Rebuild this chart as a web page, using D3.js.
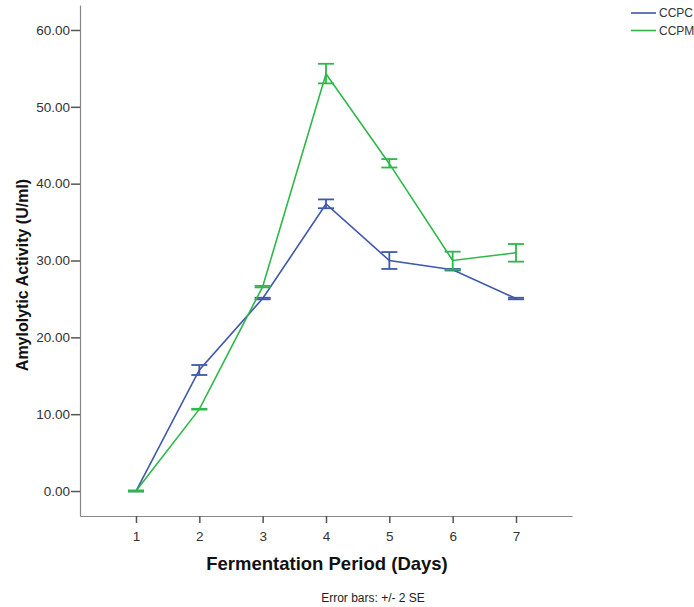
<!DOCTYPE html>
<html><head><meta charset="utf-8">
<script src="https://cdn.jsdelivr.net/npm/d3@7"></script>
<style>body{margin:0;background:#fff;}svg{display:block;font-family:"Liberation Sans",Arial,sans-serif;}</style>
</head><body>
<svg id="chart" width="694" height="607"></svg>
<script>
const days = [1, 2, 3, 4, 5, 6, 7];
const seriesNames = ["CCPC", "CCPM"];
const ccpcMean = [0, 15.75, 25.05, 37.35, 30.0, 28.8, 25.05];
const ccpcLow  = [-0.05, 15.1, 24.95, 36.8, 28.9, 28.7, 24.95];
const ccpcHigh = [0.05, 16.4, 25.15, 37.95, 31.1, 28.9, 25.15];
const ccpmMean = [0, 10.65, 26.6, 54.3, 42.6, 30.0, 31.0];
const ccpmLow  = [-0.05, 10.6, 26.5, 53.05, 42.1, 28.8, 29.85];
const ccpmHigh = [0.05, 10.7, 26.7, 55.6, 43.2, 31.15, 32.15];
const yTicks = [0, 10, 20, 30, 40, 50, 60];
const colors = ["#3E58AC", "#2EB848"];

const series = [
  {name: seriesNames[0], mean: ccpcMean, low: ccpcLow, high: ccpcHigh, color: colors[0]},
  {name: seriesNames[1], mean: ccpmMean, low: ccpmLow, high: ccpmHigh, color: colors[1]}
];

const svg = d3.select("#chart");
const x = d3.scaleLinear().domain([0.116, 7.884]).range([80, 572]);
const y = d3.scaleLinear().domain([-3.25, 63.25]).range([516, 5]);

// axes
const xAxis = svg.append("g").attr("transform", "translate(0,516)")
  .call(d3.axisBottom(x).tickValues(days).tickFormat(d3.format("d")).tickSize(7).tickSizeOuter(0));
const yAxis = svg.append("g").attr("transform", "translate(80,0)")
  .call(d3.axisLeft(y).tickValues(yTicks).tickFormat(d3.format(".2f")).tickSize(9).tickSizeOuter(0));
[xAxis, yAxis].forEach(g => {
  g.select(".domain").attr("stroke", "#888").attr("stroke-width", 1.2);
  g.selectAll(".tick line").attr("stroke", "#555").attr("stroke-width", 1.5);
  g.selectAll(".tick text").attr("fill", "#333").style("font-size", "13.5px")
    .style("font-family", "'Liberation Sans', Arial, sans-serif");
});
xAxis.selectAll(".tick text").attr("dy", "1.1em");
yAxis.selectAll(".tick text").attr("x", -10);

// lines
const line = d3.line().x((d, i) => x(days[i])).y(d => y(d));
series.forEach(s => {
  svg.append("path").datum(s.mean).attr("d", line)
    .attr("fill", "none").attr("stroke", s.color).attr("stroke-width", 1.6);
  const g = svg.append("g").attr("stroke", s.color).attr("stroke-width", 1.8);
  days.forEach((d, i) => {
    const cx = x(d);
    g.append("line").attr("x1", cx).attr("x2", cx).attr("y1", y(s.low[i])).attr("y2", y(s.high[i]));
    g.append("line").attr("x1", cx - 8).attr("x2", cx + 8).attr("y1", y(s.low[i])).attr("y2", y(s.low[i]));
    g.append("line").attr("x1", cx - 8).attr("x2", cx + 8).attr("y1", y(s.high[i])).attr("y2", y(s.high[i]));
  });
});

// titles
svg.append("text").attr("x", 327).attr("y", 570).attr("text-anchor", "middle")
  .style("font-size", "18.5px").style("font-weight", "bold").attr("fill", "#111")
  .text("Fermentation Period (Days)");
svg.append("text").attr("transform", "translate(28,275) rotate(-90)").attr("text-anchor", "middle")
  .style("font-size", "16px").style("font-weight", "bold").attr("fill", "#111")
  .text("Amylolytic Activity (U/ml)");
svg.append("text").attr("x", 373).attr("y", 602).attr("text-anchor", "middle")
  .style("font-size", "12px").attr("fill", "#222").text("Error bars: +/- 2 SE");

// legend
series.forEach((s, i) => {
  const ly = 13 + i * 17.5;
  svg.append("line").attr("x1", 631).attr("x2", 656).attr("y1", ly).attr("y2", ly)
    .attr("stroke", s.color).attr("stroke-width", 1.6);
  svg.append("text").attr("x", 659).attr("y", ly + 4).style("font-size", "12px")
    .attr("fill", "#333").text(s.name);
});
</script>
</body></html>
